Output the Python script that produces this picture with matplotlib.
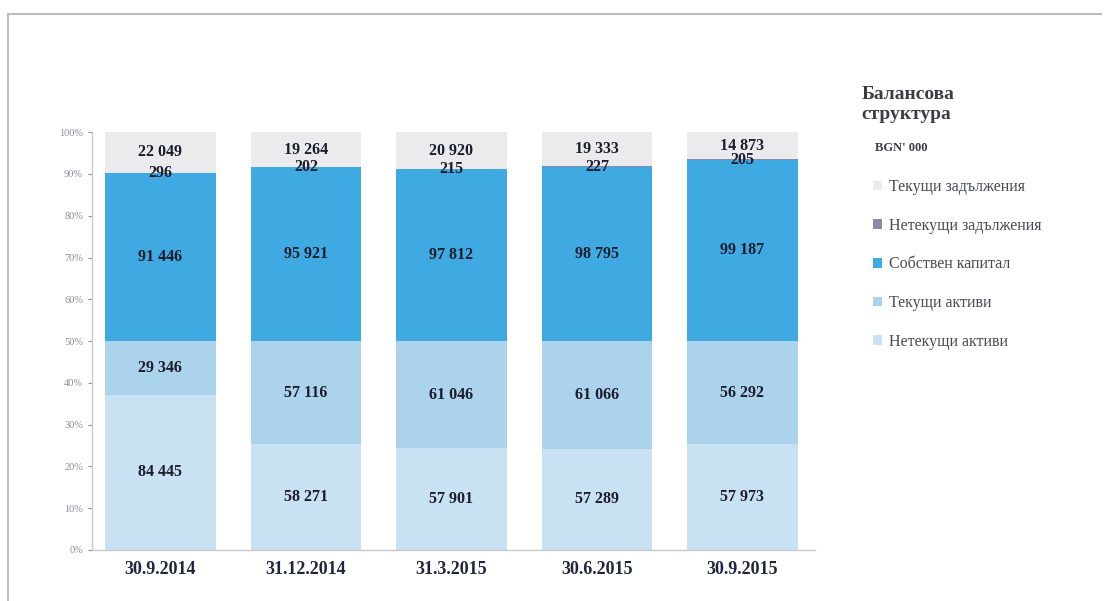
import numpy as np
import matplotlib
matplotlib.use('Agg')
import matplotlib.pyplot as plt
from matplotlib.lines import Line2D
from matplotlib.ticker import PercentFormatter

plt.rcParams['font.family'] = ['Liberation Serif', 'DejaVu Serif']

# balance sheet, BGN '000
dates = ['30.9.2014', '31.12.2014', '31.3.2015', '30.6.2015', '30.9.2015']
noncur_assets = [84445, 58271, 57901, 57289, 57973]
cur_assets = [29346, 57116, 61046, 61066, 56292]
equity = [91446, 95921, 97812, 98795, 99187]
noncur_liab = [296, 202, 215, 227, 205]
cur_liab = [22049, 19264, 20920, 19333, 14873]

names = ['Нетекущи активи', 'Текущи активи', 'Собствен капитал',
         'Нетекущи задължения', 'Текущи задължения']
colors = ['#c8e2f3', '#acd3ec', '#3fa9e2', '#8c8aa6', '#ebebed']

series = [noncur_assets, cur_assets, equity, noncur_liab, cur_liab]
series = [np.array(s, dtype=float) for s in series]
assets_tot = series[0] + series[1]
liab_tot = series[2] + series[3] + series[4]
# each side of the balance takes half the bar
shares = [s / assets_tot * 50 for s in series[:2]] + [s / liab_tot * 50 for s in series[2:]]

fig = plt.figure(figsize=(11.09, 6.01), dpi=100)
ax = fig.add_axes([0.083, 0.085, 0.652, 0.695])

x = np.arange(len(dates))
bottom = np.zeros(len(dates))
handles = []
for i in range(5):
    b = ax.bar(x, shares[i], 0.76, bottom=bottom, color=colors[i], label=names[i], zorder=2)
    handles.append(b)
    for j in range(len(dates)):
        val = '{:,}'.format(int(series[i][j])).replace(',', ' ')
        ax.text(x[j], bottom[j] + shares[i][j] / 2, val, ha='center', va='center',
                fontsize=11.5, fontweight='bold', color='#1c1c2c', zorder=3)
    bottom = bottom + shares[i]

ax.set_ylim(0, 100)
ax.set_xlim(-0.47, 4.5)
ax.yaxis.set_major_formatter(PercentFormatter(decimals=0))
ax.set_yticks(np.arange(0, 101, 10))
ax.tick_params(axis='y', labelsize=7.5, colors='#8a8a95', length=3, width=0.8)
ax.tick_params(axis='x', length=0, pad=8)
ax.set_xticks(x)
ax.set_xticklabels(dates, fontsize=13, fontweight='bold', color='#1f2740')
for s in ['top', 'right']:
    ax.spines[s].set_visible(False)
for s in ['left', 'bottom']:
    ax.spines[s].set_color('#c8c8cc')
    ax.spines[s].set_linewidth(1)

# legend, top item first
fig.legend(handles[::-1], names[::-1], loc='upper left', bbox_to_anchor=(0.774, 0.726),
           frameon=False, handlelength=0.55, handleheight=0.55, handletextpad=0.45,
           labelspacing=1.42, fontsize=11.5, labelcolor='#4a4a55')
fig.text(0.777, 0.857, 'Балансова\nструктура', fontsize=14, fontweight='bold',
         color='#3c3c44', va='top', linespacing=1.2)
fig.text(0.789, 0.753, "BGN' 000", fontsize=9, fontweight='bold', color='#3c3c44', va='center')

# scan frame
fig.add_artist(Line2D([0.007, 0.993], [0.977, 0.977], color='#bdbdc0', lw=1.5))
fig.add_artist(Line2D([0.007, 0.007], [0.977, 0.0], color='#bdbdc0', lw=1.5))

fig.savefig('out.png', dpi=100)
